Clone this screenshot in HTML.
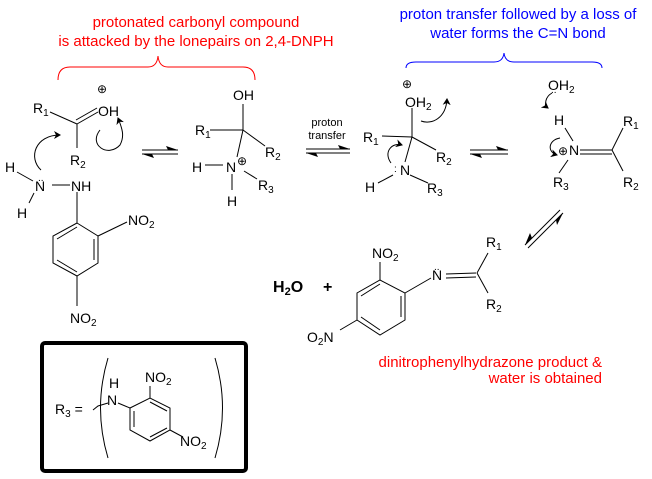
<!DOCTYPE html>
<html><head><meta charset="utf-8"><style>
html,body{margin:0;padding:0;background:#fff}
svg{display:block}
text{font-family:"Liberation Sans",Arial,sans-serif;font-size:14px;fill:#000}
.s{font-size:10px}
</style></head><body>
<svg width="652" height="479" viewBox="0 0 652 479" xmlns="http://www.w3.org/2000/svg">
<defs>
<marker id="ah" markerWidth="8" markerHeight="8" refX="6" refY="4" orient="auto" markerUnits="userSpaceOnUse"><path d="M0,0 L7,4 L0,8 L2,4 Z" fill="#000"/></marker>
</defs>
<text x="196" y="27" text-anchor="middle" style="fill:#f00;font-size:15px">protonated carbonyl compound</text>
<text x="196" y="46" text-anchor="middle" style="fill:#f00;font-size:15px">is attacked by the lonepairs on 2,4-DNPH</text>
<text x="518" y="19" text-anchor="middle" style="fill:#00f;font-size:15px">proton transfer followed by a loss of</text>
<text x="518" y="38" text-anchor="middle" style="fill:#00f;font-size:15px">water forms the C=N bond</text>
<path d="M58,80 Q58,67 70,67 L148,67 Q157,67 158,56 Q159,67 168,67 L243,67 Q255,67 255,80" fill="none" stroke="#f00" stroke-width="1"/>
<path d="M406,68 Q406,62 416,62 L494,62 Q503,62 504,53 Q505,62 514,62 L592,62 Q602,62 602,68" fill="none" stroke="#00f" stroke-width="1"/>

<g stroke="#000" stroke-width="1" fill="none">
<line x1="50" y1="112" x2="77" y2="124"/>
<line x1="77" y1="124" x2="98" y2="112"/>
<line x1="76" y1="120" x2="97" y2="108"/>
<line x1="77" y1="124" x2="77" y2="148"/>
<line x1="17" y1="172" x2="33" y2="181"/>
<line x1="34" y1="193" x2="29" y2="203"/>
<line x1="52" y1="185" x2="70" y2="185"/>
<line x1="77" y1="192" x2="77" y2="223"/>
<path d="M77,223 L98,236 L98,263 L77,276 L53,263 L53,236 Z"/>
<line x1="94" y1="239" x2="94" y2="260"/>
<line x1="57" y1="260" x2="77" y2="272"/>
<line x1="57" y1="239" x2="77" y2="227"/>
<line x1="98" y1="236" x2="127" y2="222"/>
<line x1="77" y1="276" x2="77" y2="306"/>
<path d="M41,170 C28,158 35,135 60,135" marker-end="url(#ah)"/>
<path d="M100,130 C88,145 108,158 120,145 C125,136 122,128 118,118" marker-end="url(#ah)"/>
<line x1="142" y1="150" x2="178" y2="150"/><line x1="142" y1="154" x2="178" y2="154"/>
<line x1="243" y1="104" x2="243" y2="130"/>
<line x1="210" y1="130" x2="243" y2="130"/>
<line x1="243" y1="130" x2="265" y2="146"/>
<line x1="243" y1="130" x2="237" y2="157"/>
<line x1="205" y1="165" x2="223" y2="165"/>
<line x1="244" y1="171" x2="257" y2="179"/>
<line x1="232" y1="174" x2="232" y2="190"/>
<line x1="306" y1="149" x2="350" y2="149"/><line x1="306" y1="153" x2="350" y2="153"/>
<line x1="412" y1="108" x2="412" y2="137"/>
<line x1="382" y1="136" x2="412" y2="137"/>
<line x1="412" y1="137" x2="436" y2="150"/>
<line x1="412" y1="137" x2="405" y2="162"/>
<line x1="378" y1="183" x2="393" y2="175"/>
<line x1="410" y1="175" x2="428" y2="183"/>
<path d="M421,121 C432,125 446,118 447,99" marker-end="url(#ah)"/>
<path d="M391,163 C383,152 392,142 402,145" marker-end="url(#ah)"/>
<line x1="470" y1="150" x2="508" y2="150"/><line x1="470" y1="154" x2="508" y2="154"/>
<line x1="565" y1="128" x2="573" y2="141"/>
<line x1="580" y1="150" x2="612" y2="150"/>
<line x1="580" y1="154" x2="612" y2="154"/>
<line x1="612" y1="150" x2="623" y2="128"/>
<line x1="612" y1="150" x2="623" y2="171"/>
<line x1="568" y1="160" x2="559" y2="173"/>
<path d="M552,93 C545,97 544,105 548,108" marker-end="url(#ah)"/>
<path d="M560,138 C548,140 547,152 557,155" marker-end="url(#ah)"/>
<line x1="528" y1="248" x2="563" y2="213"/><line x1="525" y1="245" x2="560" y2="210"/>
<path d="M380,280 L405,293 L405,320 L380,335 L357,320 L357,293 Z"/>
<line x1="401" y1="296" x2="401" y2="317"/>
<line x1="361" y1="296" x2="380" y2="284"/>
<line x1="361" y1="317" x2="380" y2="330"/>
<line x1="380" y1="280" x2="380" y2="262"/>
<line x1="357" y1="320" x2="340" y2="330"/>
<line x1="405" y1="293" x2="431" y2="278"/>
<line x1="446" y1="274" x2="476" y2="273"/>
<line x1="446" y1="278" x2="476" y2="277"/>
<line x1="477" y1="273" x2="488" y2="253"/>
<line x1="477" y1="273" x2="488" y2="293"/>
<rect x="42" y="343" width="204" height="128" rx="3" stroke-width="4"/>
<path d="M108,358 Q93,408 108,458"/>
<path d="M215,358 Q230,408 215,458"/>
<path d="M93,410 L98,406 L108,403"/>
<line x1="118" y1="403" x2="130" y2="408"/>
<path d="M130,408 L150,398 L170,408 L170,430 L150,441 L130,430 Z"/>
<line x1="134" y1="411" x2="134" y2="427"/>
<line x1="150" y1="402" x2="167" y2="411"/>
<line x1="150" y1="437" x2="167" y2="428"/>
<line x1="150" y1="398" x2="150" y2="386"/>
<line x1="170" y1="430" x2="183" y2="437"/>
</g>
<g fill="#000">
<path d="M178,150 L166,146 L168,150 Z"/><path d="M142,154 L154,158 L152,154 Z"/>
<path d="M350,149 L338,145 L340,149 Z"/><path d="M306,153 L318,157 L316,153 Z"/>
<path d="M508,150 L496,146 L498,150 Z"/><path d="M470,154 L482,158 L480,154 Z"/>
<path d="M563,213 L557,225 L556,220 Z"/><path d="M525,245 L530,233 L532,238 Z"/>
</g>

<text x="33" y="113">R<tspan class="s" dy="3">1</tspan></text>
<text x="98" y="116">OH</text>
<text x="97" y="93" style="font-size:12px">⊕</text>
<text x="70" y="165">R<tspan class="s" dy="3">2</tspan></text>
<text x="5" y="172">H</text>
<text x="35" y="191">N</text>
<text x="38" y="181" style="font-size:10px">..</text>
<text x="71" y="191">NH</text>
<text x="17" y="218">H</text>
<text x="128" y="225">NO<tspan class="s" dy="3">2</tspan></text>
<text x="70" y="323">NO<tspan class="s" dy="3">2</tspan></text>
<text x="233" y="100">OH</text>
<text x="195" y="135">R<tspan class="s" dy="3">1</tspan></text>
<text x="265" y="157">R<tspan class="s" dy="3">2</tspan></text>
<text x="192" y="172">H</text>
<text x="226" y="172">N</text>
<text x="237" y="165" style="font-size:12px">⊕</text>
<text x="258" y="190">R<tspan class="s" dy="3">3</tspan></text>
<text x="227" y="206">H</text>
<text x="327" y="126" text-anchor="middle" style="font-size:11px">proton</text>
<text x="327" y="139" text-anchor="middle" style="font-size:11px">transfer</text>
<text x="402" y="88" style="font-size:12px">⊕</text>
<text x="405" y="107">OH<tspan class="s" dy="3">2</tspan></text>
<text x="363" y="142">R<tspan class="s" dy="3">1</tspan></text>
<text x="436" y="162">R<tspan class="s" dy="3">2</tspan></text>
<text x="400" y="175">N</text>
<text x="394" y="172" style="font-size:10px">:</text>
<text x="365" y="192">H</text>
<text x="427" y="193">R<tspan class="s" dy="3">3</tspan></text>
<text x="548" y="90">OH<tspan class="s" dy="3">2</tspan></text>
<text x="551" y="93" style="font-size:10px">..</text>
<text x="554" y="125">H</text>
<text x="558" y="155" style="font-size:12px">⊕</text>
<text x="569" y="155">N</text>
<text x="623" y="126">R<tspan class="s" dy="3">1</tspan></text>
<text x="553" y="187">R<tspan class="s" dy="3">3</tspan></text>
<text x="623" y="187">R<tspan class="s" dy="3">2</tspan></text>
<text x="273" y="292" style="font-weight:bold;font-size:16px">H<tspan style="font-size:11px" dy="3">2</tspan><tspan dy="-3">O</tspan></text>
<text x="323" y="292" style="font-weight:bold;font-size:16px">+</text>
<text x="372" y="258">NO<tspan class="s" dy="3">2</tspan></text>
<text x="307" y="342">O<tspan class="s" dy="3">2</tspan><tspan dy="-3">N</tspan></text>
<text x="432" y="280">N</text>
<text x="434" y="270" style="font-size:10px">..</text>
<text x="486" y="247">R<tspan class="s" dy="3">1</tspan></text>
<text x="486" y="309">R<tspan class="s" dy="3">2</tspan></text>
<text x="602" y="367" text-anchor="end" style="fill:#f00;font-size:15px">dinitrophenylhydrazone product &amp;</text>
<text x="602" y="383" text-anchor="end" style="fill:#f00;font-size:15px">water is obtained</text>
<text x="55" y="414">R<tspan class="s" dy="3">3</tspan><tspan dy="-3"> =</tspan></text>
<text x="109" y="388">H</text>
<text x="107" y="405">N</text>
<text x="145" y="382">NO<tspan class="s" dy="3">2</tspan></text>
<text x="180" y="446">NO<tspan class="s" dy="3">2</tspan></text>
</svg>
</body></html>
